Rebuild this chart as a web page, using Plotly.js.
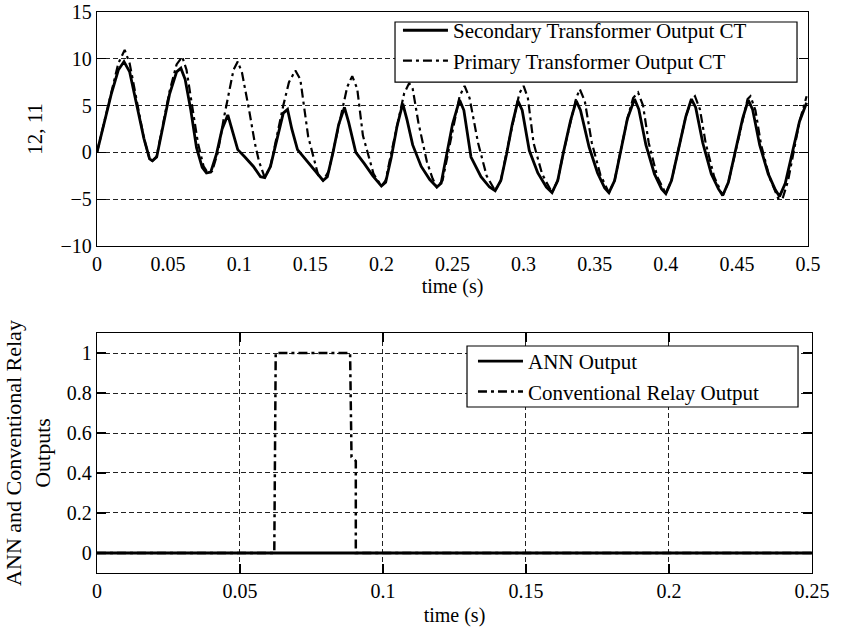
<!DOCTYPE html>
<html>
<head>
<meta charset="utf-8">
<script src="https://cdn.plot.ly/plotly-3.0.1.min.js"></script>
<style>html,body{margin:0;padding:0;background:#fff;}#chart{width:841px;height:630px;}</style>
</head>
<body>
<div id="chart"></div>
<script>
// ---- Top panel: CT currents ----
const tSec = [0.000,0.005,0.010,0.015,0.019,0.023,0.028,0.033,0.037,0.039,0.042,0.046,0.051,0.056,0.059,0.062,0.066,0.070,0.074,0.077,0.080,0.084,0.088,0.092,0.095,0.099,0.104,0.110,0.115,0.118,0.122,0.127,0.131,0.134,0.137,0.141,0.147,0.153,0.159,0.162,0.166,0.170,0.174,0.177,0.182,0.188,0.194,0.200,0.203,0.207,0.211,0.215,0.218,0.222,0.228,0.234,0.239,0.242,0.246,0.250,0.255,0.258,0.263,0.270,0.276,0.280,0.284,0.288,0.292,0.296,0.299,0.304,0.310,0.316,0.320,0.324,0.328,0.333,0.337,0.340,0.346,0.352,0.357,0.360,0.364,0.368,0.373,0.378,0.381,0.386,0.392,0.397,0.400,0.404,0.409,0.414,0.418,0.421,0.426,0.432,0.437,0.440,0.444,0.449,0.454,0.458,0.461,0.466,0.472,0.477,0.480,0.484,0.489,0.494,0.499];
const iSec = [0.0,3.0,6.2,8.8,9.7,8.6,5.2,1.5,-0.7,-0.9,-0.5,2.5,6.2,8.6,9.0,7.8,4.5,0.5,-1.6,-2.2,-2.1,-0.2,2.5,4.0,2.5,0.3,-0.5,-1.5,-2.6,-2.7,-1.5,1.8,4.2,4.6,2.5,0.3,-0.8,-2.0,-3.0,-2.6,0.0,3.0,4.8,3.2,0.0,-1.2,-2.5,-3.6,-3.2,-0.5,2.8,5.2,3.5,0.8,-1.5,-2.9,-3.7,-3.3,-0.2,3.0,5.6,4.5,-0.5,-2.6,-3.7,-4.1,-3.0,-0.2,3.0,5.5,4.5,0.2,-2.2,-3.7,-4.3,-3.0,0.0,3.4,5.5,4.5,0.6,-2.2,-3.8,-4.3,-3.0,0.0,3.6,5.7,4.6,0.8,-2.3,-3.9,-4.4,-3.0,0.4,3.8,5.7,4.8,1.0,-2.3,-3.9,-4.6,-3.2,0.2,3.6,5.6,4.6,0.8,-2.3,-4.0,-4.7,-3.3,0.0,3.3,5.3];
const tPri = [0.000,0.005,0.010,0.015,0.0195,0.023,0.028,0.033,0.037,0.039,0.042,0.046,0.051,0.056,0.060,0.063,0.067,0.071,0.075,0.078,0.081,0.085,0.089,0.093,0.096,0.099,0.102,0.107,0.111,0.114,0.118,0.122,0.126,0.131,0.135,0.1395,0.143,0.1485,0.1555,0.159,0.163,0.168,0.172,0.176,0.1795,0.183,0.187,0.1945,0.200,0.203,0.207,0.212,0.216,0.2195,0.222,0.226,0.232,0.236,0.239,0.243,0.247,0.251,0.255,0.2585,0.262,0.268,0.274,0.280,0.284,0.288,0.293,0.297,0.300,0.303,0.307,0.313,0.320,0.324,0.328,0.333,0.337,0.3395,0.343,0.348,0.354,0.360,0.364,0.368,0.373,0.377,0.3805,0.384,0.388,0.394,0.400,0.404,0.409,0.414,0.418,0.4205,0.424,0.428,0.434,0.440,0.444,0.449,0.454,0.4575,0.4595,0.463,0.467,0.473,0.479,0.482,0.486,0.490,0.494,0.499];
const iPri = [0.0,3.2,6.6,9.5,10.95,9.5,5.5,1.5,-0.7,-0.9,-0.4,2.7,6.5,9.4,10.2,8.8,5.0,1.0,-1.5,-2.2,-2.0,0.0,3.5,6.5,8.8,9.7,8.5,4.5,1.0,-1.0,-2.7,-1.5,1.5,5.0,7.5,8.75,7.8,1.7,-2.4,-3.0,-2.0,1.5,4.5,7.0,8.15,6.8,1.8,-2.3,-3.6,-3.0,0.0,3.5,6.3,7.4,6.8,3.2,-1.0,-2.8,-3.7,-3.0,0.0,3.3,6.0,7.1,5.8,1.0,-2.5,-4.1,-3.0,0.0,3.5,6.3,7.1,5.8,1.0,-2.3,-4.3,-3.0,0.0,3.4,5.8,6.75,5.5,1.0,-2.4,-4.3,-3.0,0.0,3.6,5.8,6.4,5.0,1.0,-2.6,-4.4,-3.0,0.4,3.8,5.6,6.0,4.6,1.0,-2.6,-4.6,-3.2,0.2,3.6,5.7,6.0,4.5,0.8,-2.7,-4.9,-5.0,-3.0,0.0,3.3,6.0];

// ---- Bottom panel: relay outputs ----
const tAnn = [0, 0.25];
const annOut = [0, 0];
const tRelay = [0, 0.062, 0.0625, 0.0885, 0.089, 0.0905, 0.0905, 0.25];
const relayOut = [0, 0, 1, 1, 0.48, 0.46, 0, 0];

// ---- Tick labels ----
const topXTicks = [0,0.05,0.1,0.15,0.2,0.25,0.3,0.35,0.4,0.45,0.5];
const topXTickText = ['0','0.05','0.1','0.15','0.2','0.25','0.3','0.35','0.4','0.45','0.5'];
const topXGrid = [0.1,0.2,0.3,0.4];
const topYTicks = [-10,-5,0,5,10,15];
const botXTicks = [0,0.05,0.1,0.15,0.2,0.25];
const botXTickText = ['0','0.05','0.1','0.15','0.2','0.25'];
const botYTicks = [0,0.2,0.4,0.6,0.8,1];
const botYTickText = ['0','0.2','0.4','0.6','0.8','1'];

const FONT = 'Liberation Serif, Times New Roman, serif';
const relayDash = '9px,4px,3px,4px';
const gridDash = '5px,3px';

const traces = [
  {x: tSec, y: iSec, xaxis:'x', yaxis:'y', mode:'lines', name:'Secondary Transformer Output CT',
   line:{color:'#000', width:2.8}, legend:'legend'},
  {x: tPri, y: iPri, xaxis:'x', yaxis:'y', mode:'lines', name:'Primary Transformer Output CT',
   line:{color:'#000', width:2.2, dash: relayDash}, legend:'legend'},
  {x: tAnn, y: annOut, xaxis:'x2', yaxis:'y2', mode:'lines', name:'ANN Output',
   line:{color:'#000', width:2.8}, legend:'legend2'},
  {x: tRelay, y: relayOut, xaxis:'x2', yaxis:'y2', mode:'lines', name:'Conventional Relay Output',
   line:{color:'#000', width:2.5, dash: relayDash}, legend:'legend2'}
];

const axBase = {
  showline:true, linecolor:'#000', linewidth:1.2, mirror:'ticks',
  ticks:'inside', ticklen:9, tickcolor:'#000', tickwidth:1.2,
  zeroline:false, gridcolor:'#222', griddash:gridDash, gridwidth:1,
  tickfont:{family:FONT, size:20, color:'#000'}
};

const legendBox = {type:'rect', xref:'paper', yref:'paper', layer:'above',
  fillcolor:'#fff', line:{color:'#000', width:1.2}};

const layout = {
  width:841, height:630,
  margin:{l:0, r:0, t:0, b:0},
  paper_bgcolor:'#fff', plot_bgcolor:'#fff',
  font:{family:FONT, size:20, color:'#000'},
  showlegend:true,
  xaxis: Object.assign({}, axBase, {
    domain:[0.1153, 0.9608], anchor:'y', range:[0,0.5],
    tickvals: topXTicks, ticktext: topXTickText, ticks:'', showgrid:false,
    title:{text:'time (s)', font:{family:FONT, size:20}, standoff:4}
  }),
  xaxis3: Object.assign({}, axBase, {
    overlaying:'x', anchor:'y', range:[0,0.5], tickvals: topXGrid,
    showticklabels:false, showgrid:true
  }),
  yaxis: Object.assign({}, axBase, {
    domain:[0.6095, 0.981], anchor:'x', range:[-10,15], tickvals: topYTicks, showgrid:true,
    title:{text:'12, 11', font:{family:FONT, size:21}, standoff:12}
  }),
  xaxis2: Object.assign({}, axBase, {
    domain:[0.1153, 0.9655], anchor:'y2', range:[0,0.25],
    tickvals: botXTicks, ticktext: botXTickText, showgrid:true,
    title:{text:'time (s)', font:{family:FONT, size:20}, standoff:6}
  }),
  yaxis2: Object.assign({}, axBase, {
    domain:[0.0905, 0.4714], anchor:'x2', range:[-0.1,1.1],
    tickvals: botYTicks, ticktext: botYTickText, showgrid:true,
    title:{text:'ANN and Conventional Relay<br>Outputs', font:{family:FONT, size:22}, standoff:10}
  }),
  shapes: [
    Object.assign({}, legendBox, {x0:0.4697, x1:0.9477, y0:0.8698, y1:0.9651}),
    Object.assign({}, legendBox, {x0:0.5553, x1:0.9489, y0:0.3540, y1:0.4508})
  ],
  legend:{x:0.4732, xanchor:'left', y:0.984, yanchor:'top', bgcolor:'rgba(0,0,0,0)',
    borderwidth:0, font:{family:FONT, size:21, color:'#000'},
    itemwidth:45, traceorder:'normal'},
  legend2:{x:0.5624, xanchor:'left', y:0.4587, yanchor:'top', bgcolor:'rgba(0,0,0,0)',
    borderwidth:0, font:{family:FONT, size:21, color:'#000'},
    itemwidth:45, traceorder:'normal'}
};

Plotly.newPlot('chart', traces, layout, {staticPlot:true, displayModeBar:false});
</script>
</body>
</html>
